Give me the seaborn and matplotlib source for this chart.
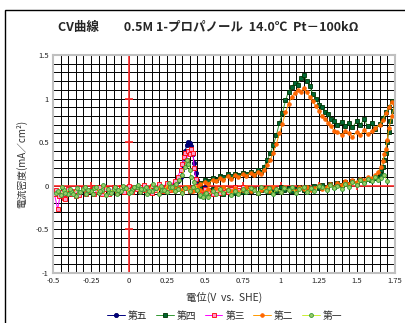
import numpy as np
import pandas as pd
import matplotlib
matplotlib.use("Agg")
import matplotlib.pyplot as plt
from matplotlib.patches import Rectangle
from matplotlib.ticker import MultipleLocator, FuncFormatter
import seaborn as sns

# (potential V vs SHE, current density mA/cm2)
fifth = [(0.30, 0.02), (0.32, 0.05), (0.34, 0.10), (0.35, 0.18), (0.36, 0.24), (0.37, 0.40),
         (0.38, 0.47), (0.39, 0.50), (0.40, 0.49), (0.41, 0.45), (0.42, 0.36), (0.43, 0.26),
         (0.44, 0.15), (0.45, 0.06), (0.46, 0.00), (0.48, -0.03), (0.50, -0.02), (0.53, -0.05),
         (0.56, -0.04), (0.58, -0.07)]

fourth = [(0.42, -0.02), (0.45, 0.00), (0.47, 0.03), (0.50, 0.06), (0.52, 0.05), (0.55, 0.09),
          (0.57, 0.07), (0.60, 0.11), (0.62, 0.10), (0.65, 0.13), (0.67, 0.11), (0.70, 0.14),
          (0.72, 0.12), (0.75, 0.15), (0.77, 0.13), (0.80, 0.16), (0.82, 0.14), (0.85, 0.18),
          (0.87, 0.16), (0.89, 0.22), (0.91, 0.30), (0.93, 0.37), (0.95, 0.47), (0.97, 0.58),
          (0.99, 0.72), (1.01, 0.83), (1.03, 0.98), (1.05, 1.08), (1.07, 1.13), (1.09, 1.18),
          (1.11, 1.15), (1.13, 1.24), (1.15, 1.27), (1.17, 1.20), (1.19, 1.14), (1.21, 1.05),
          (1.23, 1.00), (1.25, 0.93), (1.27, 0.90), (1.29, 0.84), (1.31, 0.82), (1.33, 0.76),
          (1.35, 0.74), (1.37, 0.70), (1.40, 0.73), (1.42, 0.69), (1.45, 0.72), (1.47, 0.67),
          (1.50, 0.74), (1.52, 0.70), (1.55, 0.76), (1.57, 0.68), (1.60, 0.72), (1.62, 0.65),
          (1.65, 0.71), (1.67, 0.78), (1.69, 0.84), (1.71, 0.90), (1.73, 0.97), (1.75, 0.94),
          (1.74, 0.86), (1.72, 0.74), (1.71, 0.62), (1.70, 0.50), (1.69, 0.38), (1.68, 0.30),
          (1.67, 0.22), (1.66, 0.17), (1.65, 0.13), (1.63, 0.10), (1.61, 0.09), (1.59, 0.07),
          (1.57, 0.08), (1.55, 0.05), (1.52, 0.06), (1.50, 0.03), (1.47, 0.05), (1.45, 0.02),
          (1.42, 0.04), (1.40, 0.01), (1.37, 0.03), (1.35, -0.01), (1.32, 0.02), (1.30, -0.02),
          (1.27, 0.01), (1.25, -0.03), (1.22, 0.00), (1.20, -0.04), (1.17, -0.01), (1.15, -0.05),
          (1.12, -0.02), (1.10, -0.04), (1.07, -0.06), (1.05, -0.03), (1.02, -0.05), (1.00, -0.02),
          (0.97, -0.06), (0.95, -0.04), (0.92, -0.07), (0.90, -0.03), (0.87, -0.05), (0.85, -0.08),
          (0.82, -0.04), (0.80, -0.06), (0.77, -0.03), (0.75, -0.07), (0.72, -0.05), (0.70, -0.08),
          (0.67, -0.04), (0.65, -0.06), (0.62, -0.09), (0.60, -0.05), (0.57, -0.07), (0.55, -0.04),
          (0.52, -0.08), (0.50, -0.06), (0.47, -0.03), (0.45, -0.05)]

third = [(0.75, -0.02), (0.72, -0.05), (0.70, -0.01), (0.67, -0.04), (0.65, -0.07), (0.62, -0.03),
         (0.60, -0.08), (0.57, -0.05), (0.55, -0.10), (0.52, -0.06), (0.50, -0.04), (0.47, -0.09),
         (0.45, -0.05), (0.42, -0.02), (0.40, -0.06), (0.37, -0.03), (0.35, -0.07), (0.32, -0.04),
         (0.30, -0.01), (0.27, -0.05), (0.25, -0.03), (0.22, -0.06), (0.20, -0.02), (0.17, -0.04),
         (0.15, -0.08), (0.12, -0.03), (0.10, -0.05), (0.07, -0.01), (0.05, -0.04), (0.02, -0.07),
         (0.00, -0.03), (-0.03, -0.06), (-0.05, -0.02), (-0.08, -0.08), (-0.10, -0.04), (-0.13, -0.07),
         (-0.15, -0.03), (-0.18, -0.09), (-0.20, -0.05), (-0.23, -0.02), (-0.25, -0.06), (-0.28, -0.10),
         (-0.30, -0.04), (-0.33, -0.07), (-0.35, -0.12), (-0.38, -0.06), (-0.40, -0.09), (-0.43, -0.14),
         (-0.45, -0.08), (-0.47, -0.27), (-0.49, -0.10),
         (-0.48, -0.05), (-0.46, -0.12), (-0.44, -0.07), (-0.42, -0.15), (-0.40, -0.04), (-0.38, -0.09),
         (-0.35, -0.06), (-0.33, -0.11), (-0.30, -0.03), (-0.28, -0.08), (-0.25, -0.05), (-0.23, -0.10),
         (-0.20, -0.02), (-0.18, -0.06), (-0.15, -0.04), (-0.13, -0.09), (-0.10, -0.01), (-0.08, -0.05),
         (-0.05, -0.03), (-0.03, -0.07), (0.00, 0.00), (0.02, -0.04), (0.05, -0.02), (0.07, -0.06),
         (0.10, 0.01), (0.12, -0.03), (0.15, 0.00), (0.17, -0.05), (0.20, 0.02), (0.22, -0.02),
         (0.25, 0.03), (0.27, 0.00), (0.30, 0.05), (0.32, 0.10), (0.34, 0.18), (0.35, 0.25),
         (0.36, 0.33), (0.37, 0.37), (0.38, 0.30), (0.39, 0.40), (0.40, 0.36), (0.41, 0.42),
         (0.42, 0.38), (0.43, 0.20), (0.44, 0.08), (0.45, 0.00)]

second = [(0.20, -0.03), (0.23, -0.06), (0.25, -0.02), (0.28, -0.05), (0.30, -0.01), (0.33, -0.04),
          (0.35, -0.06), (0.38, -0.02), (0.40, -0.05), (0.43, -0.03), (0.45, -0.01), (0.47, 0.02),
          (0.50, 0.04), (0.52, 0.02), (0.55, 0.07), (0.57, 0.05), (0.60, 0.09), (0.62, 0.06),
          (0.65, 0.11), (0.67, 0.08), (0.70, 0.12), (0.72, 0.10), (0.75, 0.13), (0.77, 0.11),
          (0.80, 0.15), (0.82, 0.12), (0.85, 0.16), (0.87, 0.14), (0.89, 0.18), (0.91, 0.24),
          (0.93, 0.30), (0.95, 0.38), (0.97, 0.48), (0.99, 0.60), (1.01, 0.71), (1.03, 0.84),
          (1.05, 0.94), (1.07, 1.02), (1.09, 1.06), (1.11, 1.10), (1.13, 1.08), (1.15, 1.12),
          (1.17, 1.07), (1.19, 1.02), (1.21, 0.97), (1.23, 0.91), (1.25, 0.86), (1.27, 0.80),
          (1.29, 0.76), (1.31, 0.72), (1.33, 0.68), (1.35, 0.63), (1.37, 0.62), (1.40, 0.58),
          (1.42, 0.63), (1.45, 0.60), (1.47, 0.56), (1.50, 0.62), (1.52, 0.58), (1.55, 0.64),
          (1.57, 0.59), (1.60, 0.63), (1.62, 0.66), (1.65, 0.70), (1.67, 0.75), (1.69, 0.83),
          (1.71, 0.90), (1.73, 0.96), (1.75, 0.92),
          (1.73, 0.80), (1.71, 0.66), (1.70, 0.52), (1.69, 0.42), (1.68, 0.36), (1.67, 0.28),
          (1.66, 0.21), (1.64, 0.16), (1.62, 0.12), (1.60, 0.09), (1.57, 0.10), (1.55, 0.06),
          (1.52, 0.08), (1.50, 0.04), (1.47, 0.06), (1.45, 0.02), (1.42, 0.05), (1.40, 0.01),
          (1.37, 0.03), (1.35, -0.02), (1.32, 0.02), (1.30, -0.01), (1.27, -0.04), (1.25, 0.01),
          (1.22, -0.03), (1.20, -0.05), (1.17, -0.02), (1.15, -0.04), (1.12, -0.01), (1.10, -0.06),
          (1.07, -0.03), (1.05, -0.05), (1.02, -0.02), (1.00, -0.07), (0.97, -0.04), (0.95, -0.02),
          (0.92, -0.06), (0.90, -0.03), (0.87, -0.05), (0.85, -0.08), (0.82, -0.04), (0.80, -0.06),
          (0.77, -0.02), (0.75, -0.05), (0.72, -0.07), (0.70, -0.03), (0.67, -0.06), (0.65, -0.04),
          (0.62, -0.02), (0.60, -0.05), (0.57, -0.03), (0.55, -0.06), (0.52, -0.04), (0.50, -0.07),
          (0.47, -0.05), (0.45, -0.03), (0.42, -0.06), (0.40, -0.04), (0.37, -0.02), (0.35, -0.05),
          (0.32, -0.03), (0.30, -0.06)]

first = [(1.70, 0.05), (1.68, 0.12), (1.66, 0.09), (1.64, 0.07), (1.62, 0.10), (1.60, 0.05),
         (1.57, 0.08), (1.55, 0.03), (1.52, 0.06), (1.50, 0.01), (1.47, 0.04), (1.45, -0.02),
         (1.42, 0.02), (1.40, -0.04), (1.37, 0.00), (1.35, -0.03), (1.32, 0.01), (1.30, -0.05),
         (1.27, -0.02), (1.25, 0.00), (1.22, -0.06), (1.20, -0.03), (1.17, -0.07), (1.15, -0.01),
         (1.12, -0.04), (1.10, -0.08), (1.07, -0.02), (1.05, -0.05), (1.02, -0.03), (1.00, -0.07),
         (0.97, -0.04), (0.95, -0.09), (0.92, -0.03), (0.90, -0.06), (0.87, -0.02), (0.85, -0.08),
         (0.82, -0.05), (0.80, -0.03), (0.77, -0.07), (0.75, -0.04), (0.72, -0.09), (0.70, -0.06),
         (0.67, -0.11), (0.65, -0.05), (0.62, -0.08), (0.60, -0.04), (0.57, -0.10), (0.55, -0.06),
         (0.52, -0.13), (0.50, -0.09), (0.47, -0.12), (0.45, -0.05), (0.42, -0.02), (0.40, -0.06),
         (0.37, -0.03), (0.35, -0.08), (0.32, -0.04), (0.30, -0.06), (0.27, -0.02), (0.25, -0.07),
         (0.22, -0.05), (0.20, -0.09), (0.17, -0.03), (0.15, -0.06), (0.12, -0.10), (0.10, -0.04),
         (0.07, -0.07), (0.05, -0.02), (0.02, -0.05), (0.00, -0.08), (-0.03, -0.03), (-0.05, -0.06),
         (-0.08, -0.09), (-0.10, -0.04), (-0.13, -0.07), (-0.15, -0.11), (-0.18, -0.05), (-0.20, -0.08),
         (-0.23, -0.03), (-0.25, -0.06), (-0.28, -0.10), (-0.30, -0.04), (-0.33, -0.07), (-0.35, -0.12),
         (-0.38, -0.06), (-0.40, -0.09), (-0.43, -0.05), (-0.45, -0.11), (-0.48, -0.08),
         (-0.47, -0.06), (-0.44, -0.02), (-0.42, -0.08), (-0.39, -0.04), (-0.37, -0.10), (-0.34, -0.03),
         (-0.32, -0.07), (-0.29, -0.01), (-0.27, -0.05), (-0.24, -0.09), (-0.22, -0.02), (-0.19, -0.06),
         (-0.17, 0.01), (-0.14, -0.04), (-0.12, -0.08), (-0.09, -0.02), (-0.07, -0.05), (-0.04, 0.00),
         (-0.02, -0.03), (0.01, -0.07), (0.03, -0.02), (0.06, 0.01), (0.08, -0.04), (0.11, -0.01),
         (0.13, -0.06), (0.16, 0.02), (0.18, -0.03), (0.21, 0.00), (0.23, -0.05), (0.26, 0.03),
         (0.28, -0.01), (0.31, 0.02), (0.33, 0.06), (0.35, 0.12), (0.37, 0.22), (0.38, 0.30),
         (0.39, 0.25), (0.40, 0.18), (0.41, 0.10), (0.43, 0.04), (0.45, -0.05), (0.47, -0.11),
         (0.49, -0.13), (0.51, -0.08)]

names = ["第五", "第四", "第三", "第二", "第一"]
records = [fifth, fourth, third, second, first]

styles = {
    "第五": dict(color="#000080", marker="o", markersize=3, markerfacecolor="#000080", markeredgecolor="#000060"),
    "第四": dict(color="#339933", marker="s", markersize=3.2, markerfacecolor="#006633", markeredgecolor="#003300"),
    "第三": dict(color="#FF00FF", marker="s", markersize=3, markerfacecolor="#FF99CC", markeredgecolor="#FF0000"),
    "第二": dict(color="#FF9900", marker="o", markersize=2.6, markerfacecolor="#FF6600", markeredgecolor="#FF6600"),
    "第一": dict(color="#CCEE33", marker="o", markersize=2.8, markerfacecolor="#99CC66", markeredgecolor="#339933"),
}

sns.set_theme(style="white")
plt.rcParams["font.family"] = ["Noto Sans CJK JP", "DejaVu Sans"]

fig = plt.figure(figsize=(4.05, 3.23), dpi=100)
ax = fig.add_axes([0.131, 0.155, 0.844, 0.675])

for name, pts in zip(names, records):
    df = pd.DataFrame(pts, columns=["E", "I"])
    sns.lineplot(data=df, x="E", y="I", sort=False, estimator=None, ax=ax,
                 lw=0.7, markeredgewidth=0.6, label=name, **styles[name])

ax.set_xlim(-0.5, 1.75)
ax.set_ylim(-1, 1.5)
ax.xaxis.set_major_locator(MultipleLocator(0.25))
ax.xaxis.set_minor_locator(MultipleLocator(0.05))
ax.yaxis.set_major_locator(MultipleLocator(0.5))
ax.yaxis.set_minor_locator(MultipleLocator(0.1))
fmt = FuncFormatter(lambda v, p: "{:g}".format(round(v, 2)))
ax.xaxis.set_major_formatter(fmt)
ax.yaxis.set_major_formatter(fmt)
ax.grid(True, which="both", color="black", lw=0.7)
ax.set_axisbelow(True)
ax.tick_params(which="both", length=0, labelsize=5.5, colors="#222222", pad=3)

for s in ax.spines.values():
    s.set_color("#c0c0c0")
    s.set_linewidth(1.5)

# red axes crossing at zero
red = "#ff2a2a"
ax.axvline(0, color=red, lw=1.2, zorder=1.5)
ax.axhline(0, color=red, lw=1.2, zorder=1.5)
ax.plot([0] * 6, np.arange(-1, 1.51, 0.5), ls="none", marker="_", ms=6, mew=1.2, color=red, zorder=1.5)
ax.plot(np.arange(-0.5, 1.76, 0.25), [0] * 10, ls="none", marker="|", ms=6, mew=1.2, color=red, zorder=1.5)

ax.set_xlabel("電位(V  vs.  SHE)", fontsize=7.5, color="#333333", labelpad=5)
ax.set_ylabel("電流密度(mA／cm²)", fontsize=7, color="#333333", labelpad=6)

fig.text(0.515, 0.915, "CV曲線　　0.5M 1-プロパノール  14.0℃  Pt－100kΩ",
         ha="center", va="center", fontsize=9, fontweight="bold")

handles, labels = ax.get_legend_handles_labels()
ax.legend(handles, labels, loc="center", bbox_to_anchor=(0.555, 0.022),
          bbox_transform=fig.transFigure, ncol=5, frameon=False, fontsize=7,
          handlelength=1.8, columnspacing=0.9, handletextpad=0.3, borderaxespad=0)

fig.add_artist(Rectangle((5 / 405, -0.1), 1.2, 1.1 - 10 / 323, transform=fig.transFigure,
                         fill=False, edgecolor="black", lw=1.0))

fig.savefig("out.png", dpi=100)
